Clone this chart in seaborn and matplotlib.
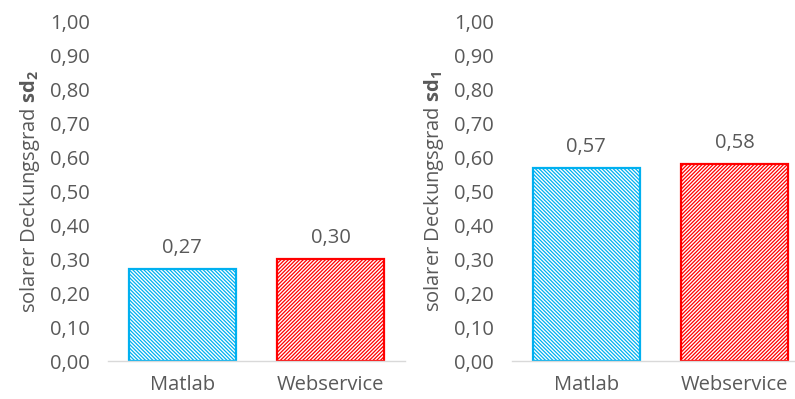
import matplotlib
matplotlib.use("Agg")
import matplotlib.pyplot as plt
import pandas as pd
import seaborn as sns

# data
methods = ["Matlab", "Webservice"]
sd2_values = [0.27, 0.30]
sd1_values = [0.57, 0.58]
y_ticks = [0.0, 0.1, 0.2, 0.3, 0.4, 0.5, 0.6, 0.7, 0.8, 0.9, 1.0]

bar_colors = {"Matlab": "#00B0F0", "Webservice": "#FF0000"}
hatches = {"Matlab": "\\" * 9, "Webservice": "/" * 9}
text_gray = "#595959"

sns.set_theme(style="white")
plt.rcParams["font.family"] = ["Open Sans", "DejaVu Sans"]
plt.rcParams["mathtext.fontset"] = "custom"
plt.rcParams["mathtext.rm"] = "Open Sans"
plt.rcParams["mathtext.bf"] = "Open Sans:bold"
plt.rcParams["hatch.linewidth"] = 0.9

FS = 14.5


def comma(v):
    return f"{v:.2f}".replace(".", ",")


def draw(ax, values, ylabel):
    df = pd.DataFrame({"method": methods, "value": values})
    sns.barplot(data=df, x="method", y="value", hue="method", order=methods,
                hue_order=methods, palette=bar_colors, width=0.72,
                legend=False, ax=ax)
    for patch, m in zip(ax.patches, methods):
        patch.set_facecolor("white")
        patch.set_edgecolor(bar_colors[m])
        patch.set_hatch(hatches[m])
        patch.set_linewidth(1.6)
    for cont in ax.containers:
        ax.bar_label(cont, labels=[comma(b.get_height()) for b in cont],
                     padding=8, fontsize=FS, color=text_gray)
    ax.set_ylim(0, 1.0)
    ax.set_xlim(-0.5, 1.5)
    ax.set_yticks(y_ticks)
    ax.set_yticklabels([comma(t) for t in y_ticks])
    ax.tick_params(axis="y", length=0, pad=13, labelsize=FS, labelcolor=text_gray)
    ax.tick_params(axis="x", length=0, pad=10, labelsize=FS, labelcolor=text_gray)
    ax.set_xlabel("")
    ax.set_ylabel(ylabel, fontsize=FS, color=text_gray, labelpad=6)
    for side in ["top", "right", "left"]:
        ax.spines[side].set_visible(False)
    ax.spines["bottom"].set_color("#D9D9D9")
    ax.spines["bottom"].set_linewidth(1.0)
    ax.grid(False)


W, H = 795, 399
fig = plt.figure(figsize=(W / 100, H / 100), dpi=100)
ax1 = fig.add_axes([108 / W, 38 / H, 297 / W, 339 / H])
ax2 = fig.add_axes([512 / W, 38 / H, 297 / W, 339 / H])

draw(ax1, sd2_values, r"solarer Deckungsgrad $\mathbf{sd_2}$")
draw(ax2, sd1_values, r"solarer Deckungsgrad $\mathbf{sd_1}$")

fig.savefig("out.png", dpi=100)
